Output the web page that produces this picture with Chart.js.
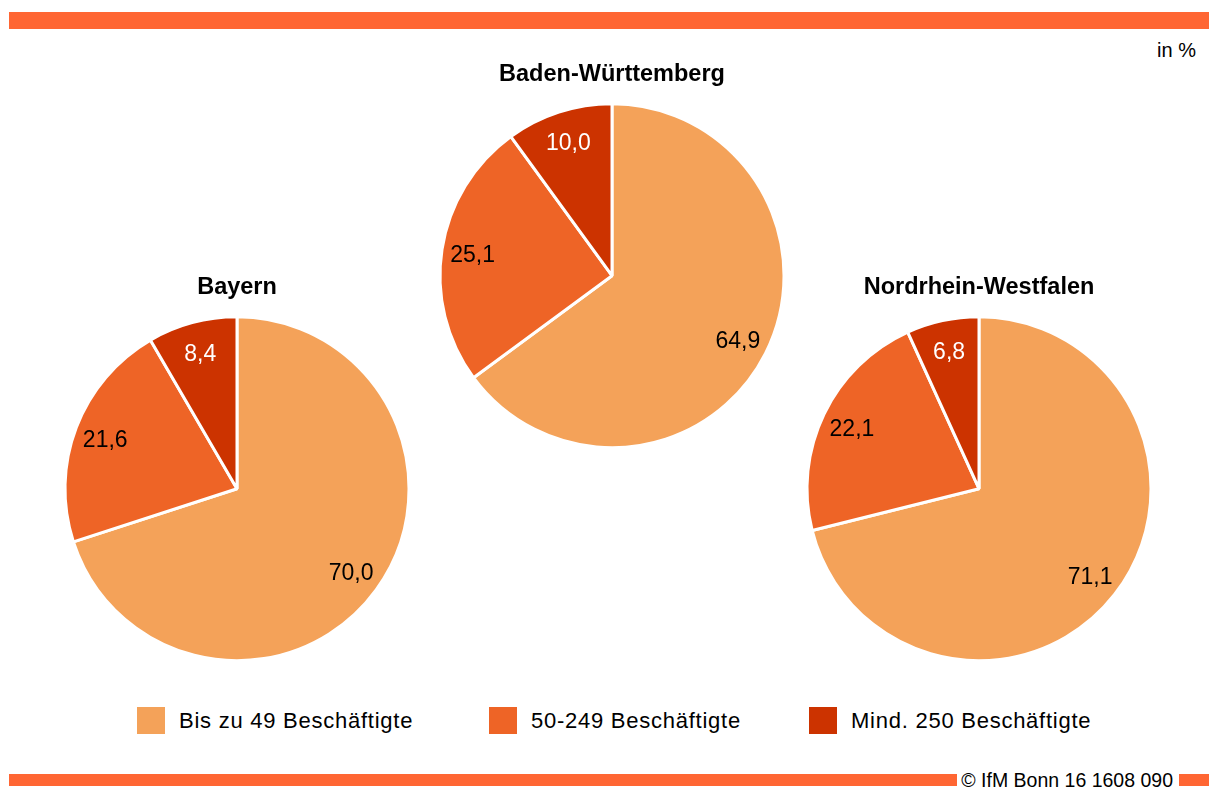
<!DOCTYPE html>
<html>
<head>
<meta charset="utf-8">
<script src="https://cdn.jsdelivr.net/npm/chart.js@4"></script>
<style>
  html, body { margin: 0; padding: 0; background: #fff; }
  body { width: 1209px; height: 787px; position: relative; overflow: hidden;
         font-family: "Liberation Sans", Arial, sans-serif; color: #000; }
  .bar { position: absolute; background: #FF6633; }
  #topbar { left: 9px; top: 12px; width: 1200px; height: 17px; }
  #unit { position: absolute; right: 13px; top: 38px; font-size: 20px; line-height: 24px; }
  canvas.pie { position: absolute; }
  .legend-item { position: absolute; top: 707px; height: 27px; display: flex; align-items: center; }
  .legend-item .sw { width: 28px; height: 27px; margin-right: 14px; flex: none; }
  .legend-item .tx { font-size: 22px; letter-spacing: 0.75px; white-space: nowrap; line-height: 27px; }
  #footer { position: absolute; left: 9px; top: 774px; width: 1200px; height: 12px; display: flex; align-items: center; }
  #footer .l { flex: 1; height: 12px; background: #FF6633; }
  #footer .r { width: 30px; height: 12px; background: #FF6633; }
  #footer .t { font-size: 19.5px; line-height: 12px; padding: 0 6px 0 4px; white-space: nowrap; position: relative; top: 0px; }
</style>
</head>
<body>
<div id="topbar" class="bar"></div>
<div id="unit">in %</div>
<div id="charts"></div>
<div id="legend"></div>
<div id="footer"><div class="l"></div><div class="t">© IfM Bonn 16 1608 090</div><div class="r"></div></div>

<script>
// ---- data ----
const categories = ["Bis zu 49 Beschäftigte", "50-249 Beschäftigte", "Mind. 250 Beschäftigte"];
const regions = ["Bayern", "Baden-Württemberg", "Nordrhein-Westfalen"];
const bayernValues = [70.0, 21.6, 8.4];
const bwValues = [64.9, 25.1, 10.0];
const nrwValues = [71.1, 22.1, 6.8];
const seriesValues = [bayernValues, bwValues, nrwValues];

// ---- styles / layout ----
const sliceColors = ["#F4A259", "#EE6426", "#CC3300"];
const labelColors = ["#000000", "#000000", "#FFFFFF"];
const canvasPos = [ {left: 57, top: 273}, {left: 432, top: 60}, {left: 799, top: 273} ];
const legendLefts = [137, 489, 809];
const CW = 360, CH = 400;

const pieLabels = {
  id: 'pieLabels',
  afterDatasetsDraw(chart) {
    const ctx = chart.ctx;
    const meta = chart.getDatasetMeta(0);
    const data = chart.data.datasets[0].data;
    ctx.save();
    ctx.font = '23px "Liberation Sans", Arial, sans-serif';
    ctx.textAlign = 'center';
    ctx.textBaseline = 'middle';
    meta.data.forEach((arc, i) => {
      const p = arc.getProps(['x', 'y', 'startAngle', 'endAngle', 'outerRadius'], true);
      const mid = (p.startAngle + p.endAngle) / 2;
      const r = p.outerRadius * 0.82;
      ctx.fillStyle = labelColors[i];
      ctx.fillText(data[i].toFixed(1).replace('.', ','), p.x + Math.cos(mid) * r, p.y + Math.sin(mid) * r + 2);
    });
    ctx.restore();
  }
};

const holder = document.getElementById('charts');
regions.forEach((name, k) => {
  const c = document.createElement('canvas');
  c.className = 'pie';
  c.width = CW; c.height = CH;
  c.style.width = CW + 'px'; c.style.height = CH + 'px';
  c.style.left = canvasPos[k].left + 'px';
  c.style.top = canvasPos[k].top + 'px';
  holder.appendChild(c);
  new Chart(c, {
    type: 'pie',
    data: {
      labels: categories,
      datasets: [{
        data: seriesValues[k],
        backgroundColor: sliceColors,
        borderColor: '#FFFFFF',
        borderWidth: 3,
        hoverOffset: 0,
        radius: 172
      }]
    },
    options: {
      responsive: false,
      devicePixelRatio: 1,
      animation: false,
      events: [],
      layout: { padding: { top: 0, bottom: 13.6, left: 0, right: 0 } },
      plugins: {
        legend: { display: false },
        tooltip: { enabled: false },
        title: {
          display: true,
          text: name,
          color: '#000',
          font: { family: '"Liberation Sans", Arial, sans-serif', size: 23.5, weight: 'bold', lineHeight: 1.2 },
          padding: { top: 0, bottom: 16.8 }
        }
      }
    },
    plugins: [pieLabels]
  });
});

const legend = document.getElementById('legend');
categories.forEach((cat, i) => {
  const it = document.createElement('div');
  it.className = 'legend-item';
  it.style.left = legendLefts[i] + 'px';
  const sw = document.createElement('div');
  sw.className = 'sw';
  sw.style.background = sliceColors[i];
  const tx = document.createElement('div');
  tx.className = 'tx';
  tx.textContent = cat;
  it.appendChild(sw); it.appendChild(tx);
  legend.appendChild(it);
});
</script>
</body>
</html>
